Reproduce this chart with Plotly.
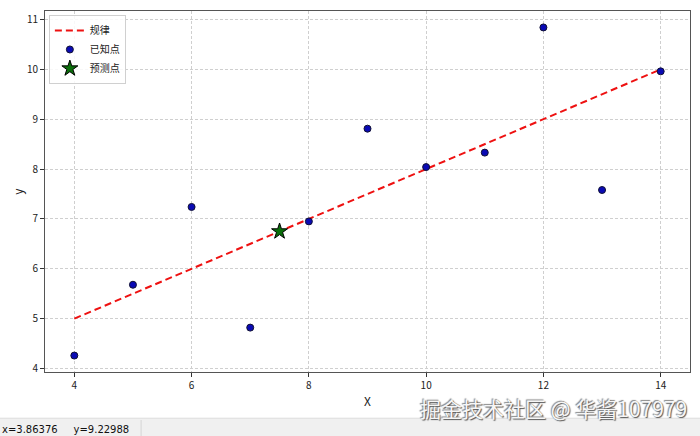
import plotly.graph_objects as go

# Known observations
x_known = [10, 8, 13, 9, 11, 14, 6, 4, 12, 7, 5]
y_known = [8.04, 6.95, 7.58, 8.81, 8.33, 9.96, 7.24, 4.26, 10.84, 4.82, 5.68]

# Fitted rule y = 3 + 0.5 x, drawn over the data span
x_fit = [4, 14]
y_fit = [5.0, 10.0]

# Prediction
x_pred = [7.5]
y_pred = [6.75]

x_ticks = [4, 6, 8, 10, 12, 14]
y_ticks = [4, 5, 6, 7, 8, 9, 10, 11]

FONT = "Noto Sans CJK SC, DejaVu Sans, sans-serif"

fig = go.Figure()
fig.add_trace(go.Scatter(
    x=x_fit, y=y_fit, mode="lines", name="规律",
    line=dict(color="#ee1111", width=2, dash="7px,4px"),
))
fig.add_trace(go.Scatter(
    x=x_known, y=y_known, mode="markers", name="已知点",
    marker=dict(color="#0a0ab4", size=7, line=dict(color="#111133", width=1)),
))
fig.add_trace(go.Scatter(
    x=x_pred, y=y_pred, mode="markers", name="预测点",
    marker=dict(symbol="star", color="#0a6e0a", size=12, line=dict(color="black", width=1)),
))

axis_common = dict(
    showgrid=True, gridcolor="#cfcfcf", griddash="3px,2px", gridwidth=1,
    zeroline=False, showline=True, linecolor="#555555", linewidth=1, mirror=True,
    ticks="outside", ticklen=4, tickcolor="#333333",
    tickfont=dict(family=FONT, size=10, color="#222222"),
)

fig.update_layout(
    width=700, height=436,
    margin=dict(l=45, r=10, t=11, b=64),
    paper_bgcolor="white", plot_bgcolor="white",
    font=dict(family=FONT, color="#222222"),
    showlegend=True,
    legend=dict(
        x=0.006, y=0.989, xanchor="left", yanchor="top",
        bgcolor="rgba(255,255,255,0.85)", bordercolor="#d0d0d0", borderwidth=1,
        font=dict(family=FONT, size=10, color="#222222"),
        itemwidth=30, tracegroupgap=0,
    ),
    xaxis=dict(range=[3.5, 14.5], tickvals=x_ticks, **axis_common),
    yaxis=dict(range=[3.93, 11.17], tickvals=y_ticks, **axis_common),
)

# Axis titles placed as annotations for exact placement
fig.add_annotation(text="X", xref="paper", yref="paper", x=0.5, y=-0.078,
                   showarrow=False, yanchor="middle",
                   font=dict(family=FONT, size=12, color="#222222"))
fig.add_annotation(text="y", xref="paper", yref="paper", x=-0.043, y=0.5,
                   showarrow=False, xanchor="center", yanchor="middle", textangle=-90,
                   font=dict(family=FONT, size=12, color="#222222"))

# Window status bar along the bottom
fig.add_shape(type="rect", xref="paper", yref="paper",
              x0=-0.07, x1=1.02, y0=-0.2, y1=-0.128,
              fillcolor="#f0f0f0", line=dict(width=0), layer="below")
fig.add_shape(type="line", xref="paper", yref="paper",
              x0=-0.07, x1=1.02, y0=-0.128, y1=-0.128,
              line=dict(color="#dcdcdc", width=1))
fig.add_shape(type="line", xref="paper", yref="paper",
              x0=0.149, x1=0.149, y0=-0.178, y1=-0.133,
              line=dict(color="#d6d6d6", width=1))
fig.add_annotation(text="x=3.86376&nbsp;&nbsp;&nbsp;&nbsp;&nbsp;y=9.22988",
                   xref="paper", yref="paper", x=-0.069, y=-0.16,
                   xanchor="left", yanchor="middle", showarrow=False,
                   font=dict(family="DejaVu Sans", size=10, color="#111111"))

# Watermark
fig.add_annotation(text="掘金技术社区 @ 华酱107979",
                   xref="paper", yref="paper", x=0.999, y=-0.1,
                   xanchor="right", yanchor="middle", showarrow=False,
                   font=dict(family=FONT, size=21, color="#f6f6f6",
                             shadow="1px 1px 1px #555, -1px -1px 1px #888"))

fig.write_html("out.html")
